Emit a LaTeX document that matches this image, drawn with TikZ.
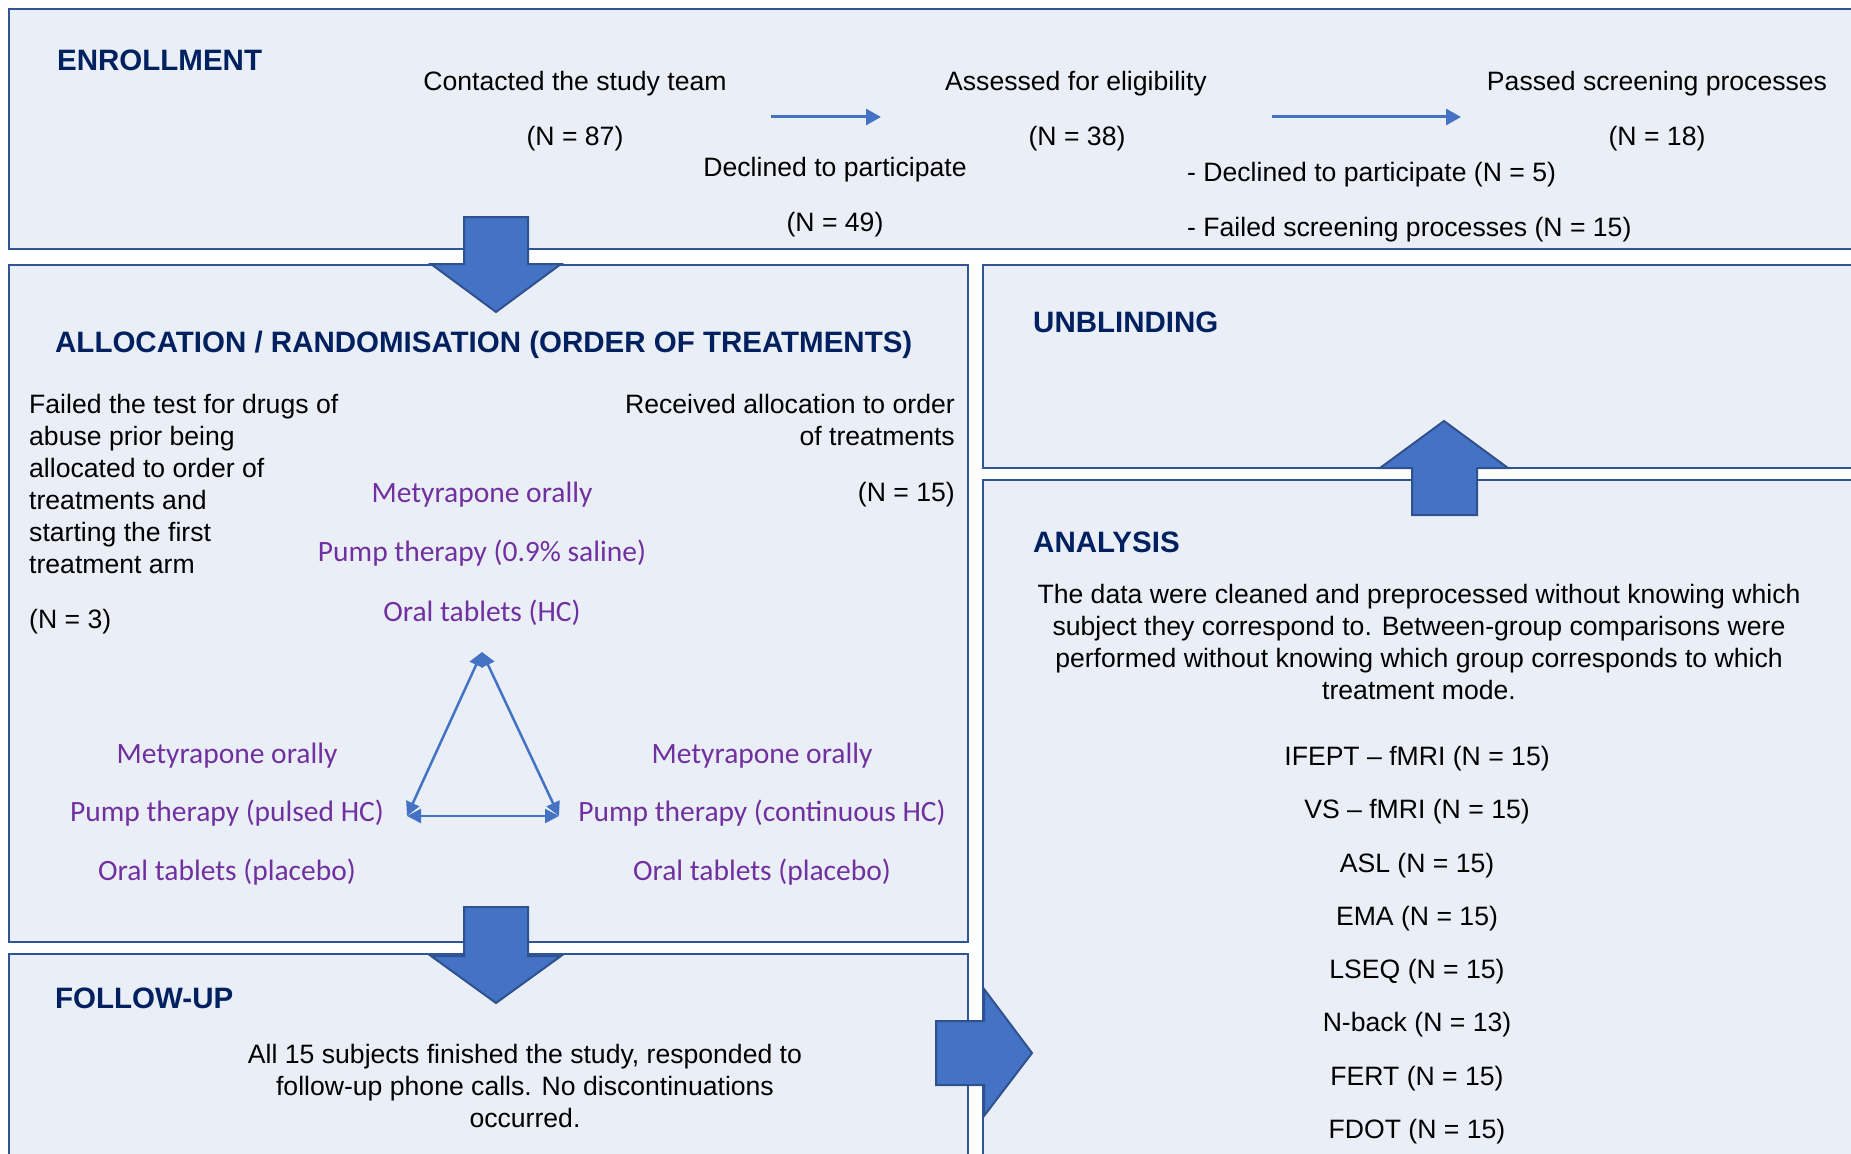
\documentclass[tikz,border=0pt]{standalone}
\usepackage{fontspec}
\setmainfont{Liberation Sans}
\newfontfamily\purplefont{Carlito}
\usetikzlibrary{arrows.meta}
\definecolor{boxfill}{RGB}{234,239,247}
\definecolor{boxline}{RGB}{47,85,151}
\definecolor{arrfill}{RGB}{68,114,196}
\definecolor{arredge}{RGB}{47,82,143}
\definecolor{headcol}{RGB}{0,32,96}
\definecolor{purp}{RGB}{112,48,160}
\begin{document}
\begin{tikzpicture}[x=1pt,y=-1pt,
 box/.style={draw=boxline, line width=2.5pt, fill=boxfill, anchor=north west, inner sep=0pt, outer sep=0pt},
 blockarrow/.style={fill=arrfill, draw=arredge, line width=2pt, line join=miter},
 heading/.style={anchor=base west, inner sep=0pt, text=headcol, font=\fontsize{29.5}{34}\selectfont\bfseries},
 body/.style={inner sep=0pt, font=\fontsize{26.6}{32}\selectfont},
 treat/.style={inner sep=0pt, anchor=base, text=purp, font=\purplefont\fontsize{29.5}{35}\selectfont},
 flow/.style={draw=arrfill, line width=3pt, -{Triangle[length=15pt,width=16pt]}},
 rotarrow/.style={draw=arrfill, line width=2.5pt, {Triangle[length=14pt,width=14pt]}-{Triangle[length=14pt,width=14pt]}}
]
\useasboundingbox (0,0) rectangle (1851,1153);
\clip (0,0) rectangle (1851,1153);
\fill[white] (0,0) rectangle (1851,1153);

% boxes
\node[box, minimum width=1900pt, minimum height=240pt] (enr) at (9,9) {};
\node[box, minimum width=959pt, minimum height=677pt] (alloc) at (9,265) {};
\node[box, minimum width=959pt, minimum height=300pt] (follow) at (9,954) {};
\node[box, minimum width=950pt, minimum height=203pt] (unbl) at (983,265) {};
\node[box, minimum width=950pt, minimum height=800pt] (anal) at (983,480) {};

% block arrows
\draw[blockarrow] (464,217) -- (528,217) -- (528,264) -- (561,264) -- (496,312) -- (431,264) -- (464,264) -- cycle;
\draw[blockarrow] (464,907) -- (528,907) -- (528,956) -- (561,956) -- (496,1003) -- (431,956) -- (464,956) -- cycle;
\draw[blockarrow] (1412,515) -- (1477,515) -- (1477,468) -- (1508,468) -- (1444,421) -- (1380,468) -- (1412,468) -- cycle;
\draw[blockarrow] (936,1021) -- (936,1085) -- (984,1085) -- (984,1116) -- (1032,1053) -- (984,989) -- (984,1021) -- cycle;

% enrollment
\node[heading] (h1) at (57,71) {ENROLLMENT};
\node[body, anchor=base] (c1) at (575,91) {Contacted the study team};
\node[body, anchor=base] (c1n) at (575,145) {(N = 87)};
\node[body, anchor=base] (c2) at (1076,91) {Assessed for eligibility};
\node[body, anchor=base] (c2n) at (1077,145) {(N = 38)};
\node[body, anchor=base] (c3) at (1657,91) {Passed screening processes};
\node[body, anchor=base] (c3n) at (1657,145) {(N = 18)};
\node[body, anchor=base] (d1) at (835,176) {Declined to participate};
\node[body, anchor=base] (d1n) at (835,231) {(N = 49)};
\node[body, anchor=base west] (d2) at (1187,181) {- Declined to participate (N = 5)};
\node[body, anchor=base west] (d3) at (1187,236) {- Failed screening processes (N = 15)};
\coordinate (f1a) at (771,117);
\coordinate (f1b) at (881,117);
\coordinate (f2a) at (1272,117);
\coordinate (f2b) at (1461,117);
\draw[flow] (f1a) -- (f1b);
\draw[flow] (f2a) -- (f2b);

% allocation
\node[heading] (h2) at (55,352) {ALLOCATION / RANDOMISATION (ORDER OF TREATMENTS)};
\node[body, anchor=north west, align=left] (fail) at (29,394) {Failed the test for drugs of\\abuse prior being\\allocated to order of\\treatments and\\starting the first\\treatment arm};
\node[body, anchor=base west] (failn) at (29,628) {(N = 3)};
\node[body, anchor=north east, align=right] (recv) at (955,394) {Received allocation to order\\of treatments};
\node[body, anchor=base east] (recvn) at (955,501) {(N = 15)};

\node[treat] (t1) at (482,502) {Metyrapone orally};
\node[treat] (t2) at (482,561) {Pump therapy (0.9\% saline)};
\node[treat] (t3) at (482,621) {Oral tablets (HC)};
\node[treat] (l1) at (227,763) {Metyrapone orally};
\node[treat] (l2) at (227,821) {Pump therapy (pulsed HC)};
\node[treat] (l3) at (227,880) {Oral tablets (placebo)};
\node[treat] (r1) at (762,763) {Metyrapone orally};
\node[treat] (r2) at (762,821) {Pump therapy (continuous HC)};
\node[treat] (r3) at (762,880) {Oral tablets (placebo)};

\coordinate (tT) at (482,652);
\coordinate (tL) at (407,816);
\coordinate (tR) at (559,816);
\draw[rotarrow] (tT) -- (tL);
\draw[rotarrow] (tT) -- (tR);
\draw[rotarrow] (tL) -- (tR);

% follow-up
\node[heading] (h3) at (55,1008) {FOLLOW-UP};
\node[body, anchor=north, align=center] (fu) at (525,1044) {All 15 subjects finished the study, responded to\\follow-up phone calls. No discontinuations\\occurred.};

% unblinding / analysis
\node[heading] (h4) at (1033,332) {UNBLINDING};
\node[heading] (h5) at (1033,552) {ANALYSIS};
\node[body, anchor=north, align=center] (an) at (1419,584) {The data were cleaned and preprocessed without knowing which\\subject they correspond to. Between-group comparisons were\\performed without knowing which group corresponds to which\\treatment mode.};
\node[body, anchor=north, align=center, font=\fontsize{26.6}{53.3}\selectfont] (list) at (1417,746) {IFEPT – fMRI (N = 15)\\VS – fMRI (N = 15)\\ASL (N = 15)\\EMA (N = 15)\\LSEQ (N = 15)\\N-back (N = 13)\\FERT (N = 15)\\FDOT (N = 15)};
\end{tikzpicture}
\end{document}
